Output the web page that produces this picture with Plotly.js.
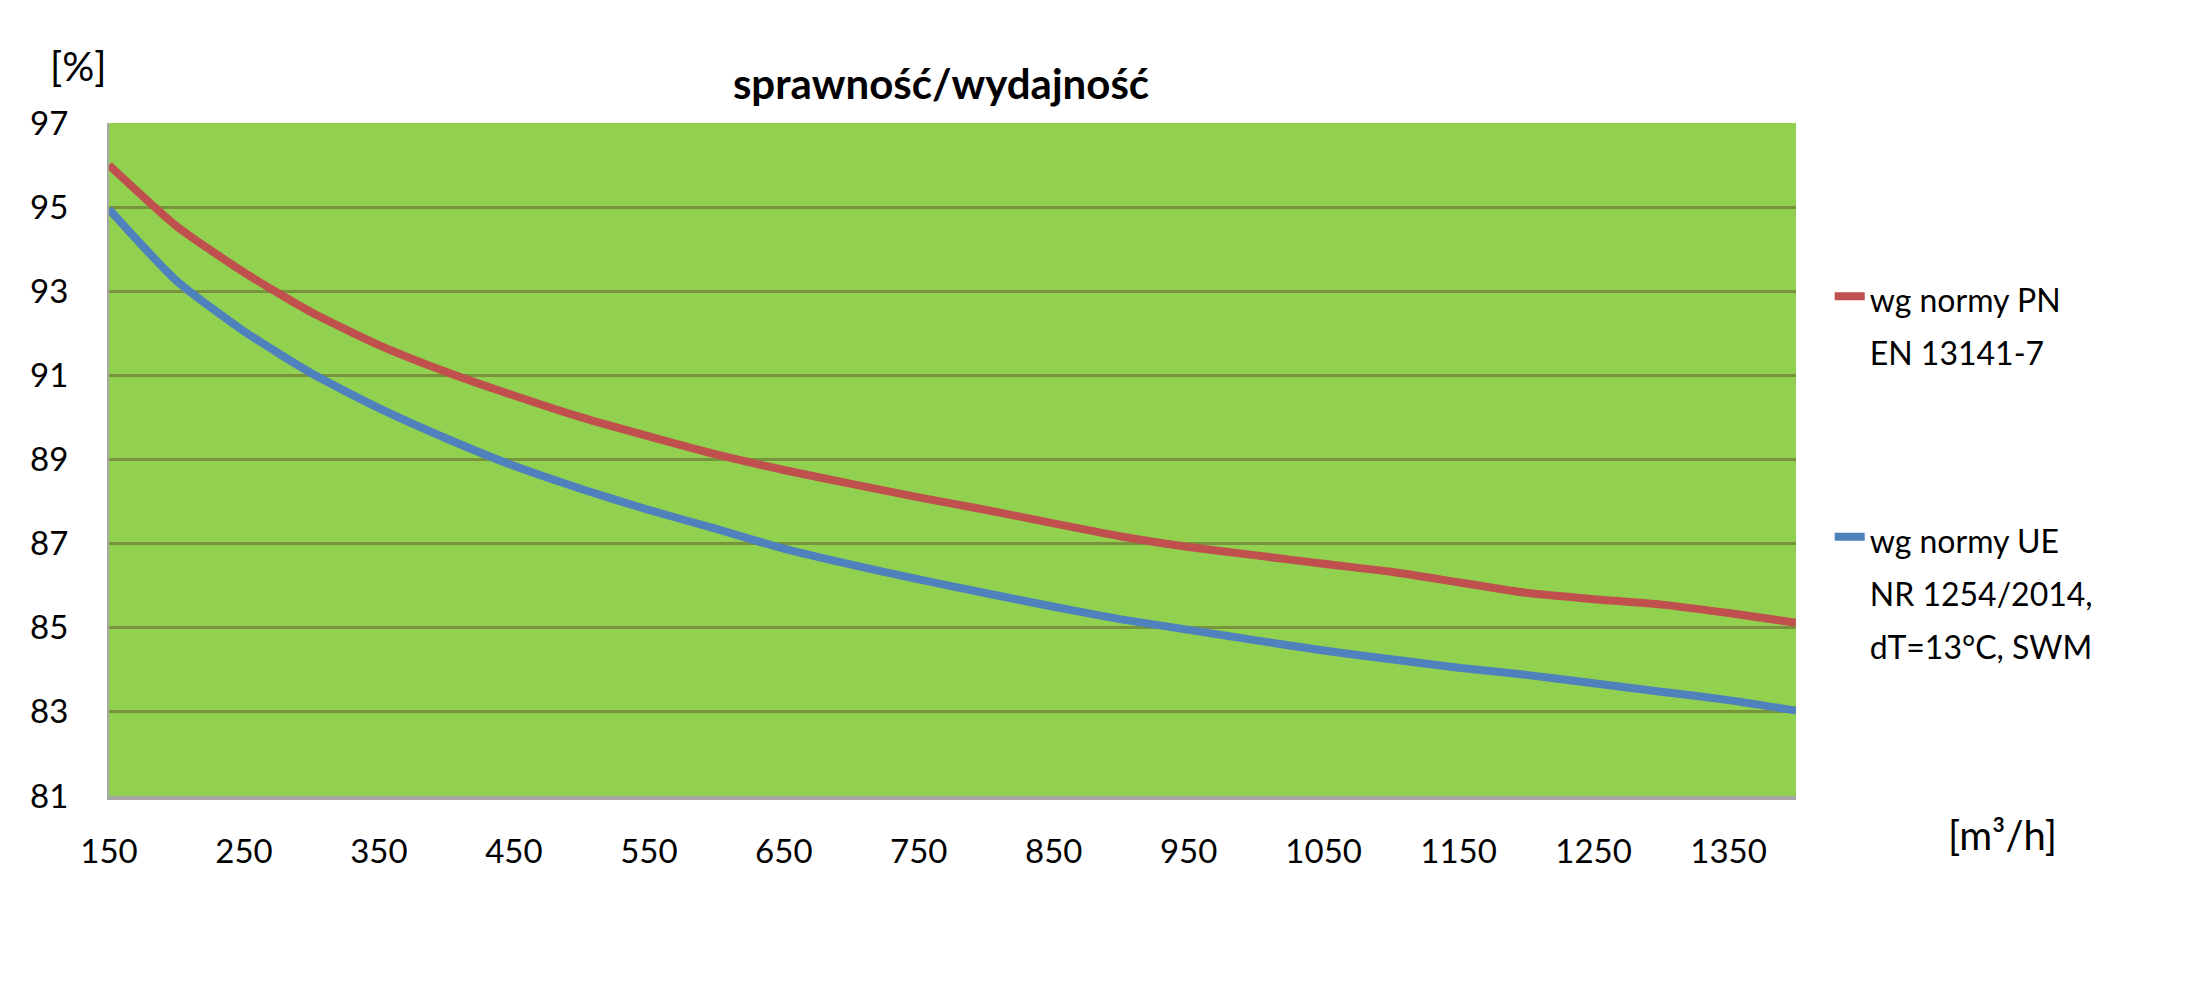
<!DOCTYPE html>
<html>
<head>
<meta charset="utf-8">
<script src="https://cdn.plot.ly/plotly-3.0.1.min.js"></script>
<style>
	html, body { margin: 0; padding: 0; background: #fff; }
	#chart { width: 2211px; height: 1002px; }
</style>
</head>
<body>
<div id="chart"></div>
<script>
// air flow [m³/h]
const flow = [
	150, 200, 250, 300, 350, 400, 450, 500, 550, 600, 650, 700, 750,
	800, 850, 900, 950, 1000, 1050, 1100, 1150, 1200, 1250, 1300, 1350, 1400,
];

// efficiency [%] per PN EN 13141-7
const effPN = [
	96.0, 94.55, 93.45, 92.5, 91.72, 91.08, 90.52, 90.0, 89.55, 89.12, 88.75, 88.42, 88.1,
	87.8, 87.48, 87.17, 86.92, 86.72, 86.52, 86.33, 86.08, 85.83, 85.68, 85.55, 85.35, 85.12,
];

// efficiency [%] per UE NR 1254/2014
const effUE = [
	94.95, 93.25, 92.05, 91.05, 90.22, 89.5, 88.85, 88.3, 87.8, 87.35, 86.88, 86.5, 86.15,
	85.82, 85.5, 85.2, 84.95, 84.7, 84.46, 84.25, 84.05, 83.88, 83.68, 83.48, 83.28, 83.03,
];

// legend glyphs are drawn smaller than the legend font so the line pitch matches
const seriesNames = [
	"<span style='font-size:32px'>wg normy PN</span><br><span style='font-size:32px'>EN 13141-7</span>",
	"<span style='font-size:32px'>wg normy UE</span><br><span style='font-size:32px'>NR 1254/2014,</span><br><span style='font-size:32px'>dT=13°C, SWM</span>",
];

const xTicks = [150, 250, 350, 450, 550, 650, 750, 850, 950, 1050, 1150, 1250, 1350];
const yTicks = [81, 83, 85, 87, 89, 91, 93, 95, 97];

const FONT = "Lato, 'Open Sans', sans-serif";

function renderEfficiency() {
	const traces = [
		{
			x: flow,
			y: effPN,
			name: seriesNames[0],
			mode: "lines",
			line: { color: "#C0504D", width: 8, shape: "spline", smoothing: 0.6 },
			legendgroup: "pn",
		},
		{
			x: flow,
			y: effUE,
			name: seriesNames[1],
			mode: "lines",
			line: { color: "#4F81BD", width: 8, shape: "spline", smoothing: 0.6 },
			legendgroup: "ue",
		},
	];

	const layout = {
		width: 2211,
		height: 1002,
		margin: { t: 123, b: 206, l: 109, r: 415 },
		paper_bgcolor: "#ffffff",
		plot_bgcolor: "#92D050",
		font: { family: FONT, size: 32, color: "#000" },
		title: {
			text: "<b>sprawność/wydajność</b>",
			font: { family: FONT, size: 42, color: "#000" },
			x: 941 / 2211,
			xanchor: "center",
			xref: "container",
			y: 1 - 84 / 1002,
			yanchor: "middle",
			yref: "container",
		},
		xaxis: {
			range: [150, 1400],
			tickvals: xTicks,
			showgrid: false,
			zeroline: false,
			showline: true,
			linecolor: "#A6A6A6",
			linewidth: 4,
			ticks: "outside",
			ticklen: 23,
			tickcolor: "rgba(0,0,0,0)",
			tickfont: { family: FONT, size: 33 },
		},
		yaxis: {
			range: [81, 97],
			tickvals: yTicks,
			showgrid: true,
			gridcolor: "#77933C",
			gridwidth: 3,
			zeroline: false,
			showline: true,
			linecolor: "#A6A6A6",
			linewidth: 2,
			ticks: "outside",
			ticklen: 32,
			tickcolor: "rgba(0,0,0,0)",
			tickfont: { family: FONT, size: 33 },
		},
		legend: {
			x: 1.02,
			xanchor: "left",
			y: 0.792,
			yanchor: "top",
			valign: "top",
			traceorder: "grouped",
			tracegroupgap: 131,
			font: { family: FONT, size: 41, color: "#000" },
			bgcolor: "rgba(0,0,0,0)",
		},
		annotations: [
			{
				text: "[%]",
				xref: "paper",
				yref: "paper",
				x: (78 - 109) / 1687,
				y: (796 - 66) / 673,
				xanchor: "center",
				yanchor: "middle",
				showarrow: false,
				font: { family: FONT, size: 40 },
			},
			{
				text: "[m³/h]",
				xref: "paper",
				yref: "paper",
				x: (2002 - 109) / 1687,
				y: (796 - 835) / 673,
				xanchor: "center",
				yanchor: "middle",
				showarrow: false,
				font: { family: FONT, size: 40 },
			},
		],
		showlegend: true,
	};

	Plotly.newPlot("chart", traces, layout, { staticPlot: true });
}

renderEfficiency();
</script>
</body>
</html>
